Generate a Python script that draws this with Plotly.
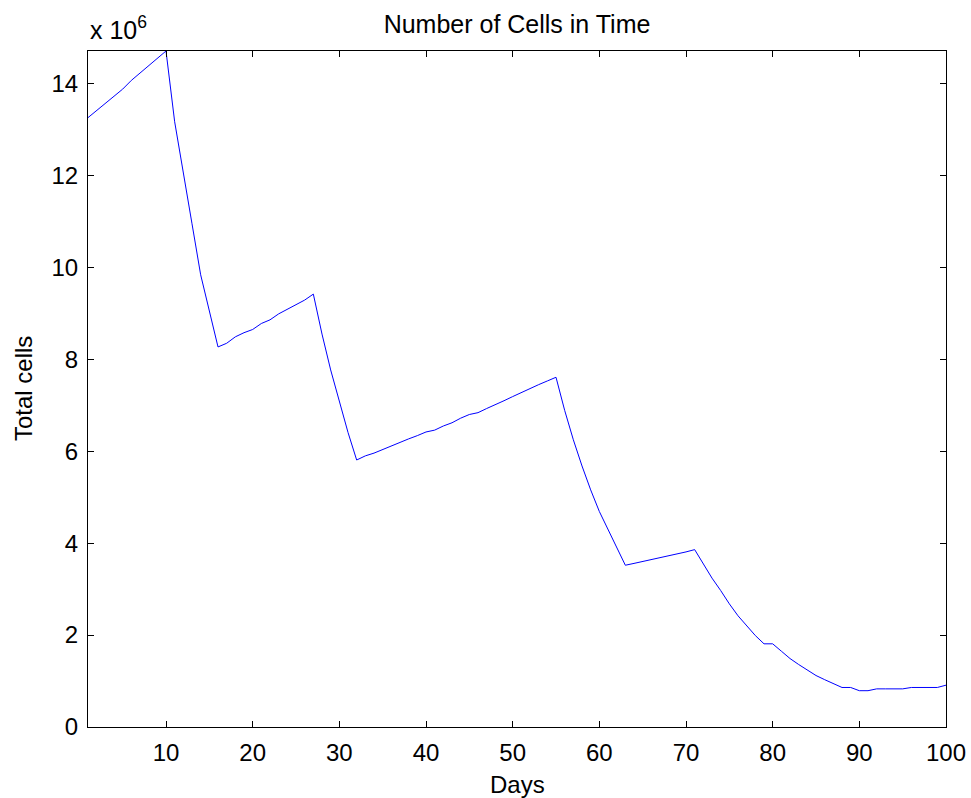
import plotly.graph_objects as go

# Daily totals (in millions of cells) over the 100-day run
days = list(range(1, 101))
cells_millions = [
    13.26, 13.41, 13.56, 13.71, 13.88, 14.07, 14.23, 14.39, 14.55, 14.71,
    13.17, 12.10, 10.95, 9.84, 9.07, 8.27, 8.35, 8.49, 8.58, 8.65,
    8.78, 8.86, 8.99, 9.09, 9.20, 9.29, 9.42, 8.55, 7.77, 7.09,
    6.41, 5.81, 5.90, 5.96, 6.04, 6.12, 6.20, 6.27, 6.34, 6.42,
    6.46, 6.55, 6.62, 6.72, 6.80, 6.84, 6.93, 7.01, 7.10, 7.19,
    7.28, 7.37, 7.45, 7.53, 7.61, 6.89, 6.25, 5.68, 5.16, 4.69,
    4.29, 3.90, 3.52, 3.56, 3.60, 3.64, 3.68, 3.72, 3.76, 3.81,
    3.86, 3.55, 3.24, 2.97, 2.68, 2.42, 2.21, 1.99, 1.81, 1.81,
    1.65, 1.49, 1.36, 1.24, 1.12, 1.03, 0.95, 0.86, 0.86, 0.79,
    0.79, 0.83, 0.83, 0.83, 0.83, 0.86, 0.86, 0.86, 0.86, 0.91,
]

x_ticks = [10, 20, 30, 40, 50, 60, 70, 80, 90, 100]
y_ticks = [0, 2, 4, 6, 8, 10, 12, 14]

FONT = "Liberation Sans, Arial, sans-serif"

fig = go.Figure(
    go.Scatter(
        x=days,
        y=cells_millions,
        mode="lines",
        line=dict(color="#0000ff", width=1),
        showlegend=False,
    )
)

axis_common = dict(
    showline=True,
    linecolor="black",
    linewidth=1,
    mirror="ticks",
    ticks="inside",
    ticklen=6,
    tickwidth=1,
    tickcolor="black",
    showgrid=False,
    zeroline=False,
    automargin=False,
    tickfont=dict(family=FONT, size=24, color="black"),
)

fig.update_xaxes(
    range=[1, 100],
    tickvals=x_ticks,
    ticktext=[str(v) for v in x_ticks],
    ticklabelstandoff=4,
    **axis_common,
)
fig.update_yaxes(
    range=[0, max(cells_millions)],
    tickvals=y_ticks,
    ticktext=[str(v) for v in y_ticks],
    ticklabelstandoff=4,
    **axis_common,
)

fig.update_layout(
    width=971,
    height=798,
    margin=dict(l=88, r=25, t=51, b=71),
    paper_bgcolor="white",
    plot_bgcolor="white",
    font=dict(family=FONT, size=24, color="black"),
    title=dict(
        text="Number of Cells in Time",
        x=0.5 * (88 + 946) / 971,
        xanchor="center",
        y=1 - 24 / 798,
        yanchor="middle",
        font=dict(family=FONT, size=25, color="black"),
    ),
    annotations=[
        dict(
            text="x 10<sup>6</sup>",
            xref="paper", yref="paper",
            x=0, y=1 + 5 / 676,
            xanchor="left", yanchor="bottom",
            showarrow=False,
            font=dict(family=FONT, size=25, color="black"),
        ),
        dict(
            text="Days",
            xref="paper", yref="paper",
            x=0.5, y=-(784 - 727) / 676,
            xanchor="center", yanchor="middle",
            showarrow=False,
            font=dict(family=FONT, size=24, color="black"),
        ),
        dict(
            text="Total cells",
            xref="paper", yref="paper",
            x=(23 - 88) / 858, y=0.5,
            xanchor="center", yanchor="middle",
            textangle=-90,
            showarrow=False,
            font=dict(family=FONT, size=24, color="black"),
        ),
    ],
)

fig.write_html("out.html")
